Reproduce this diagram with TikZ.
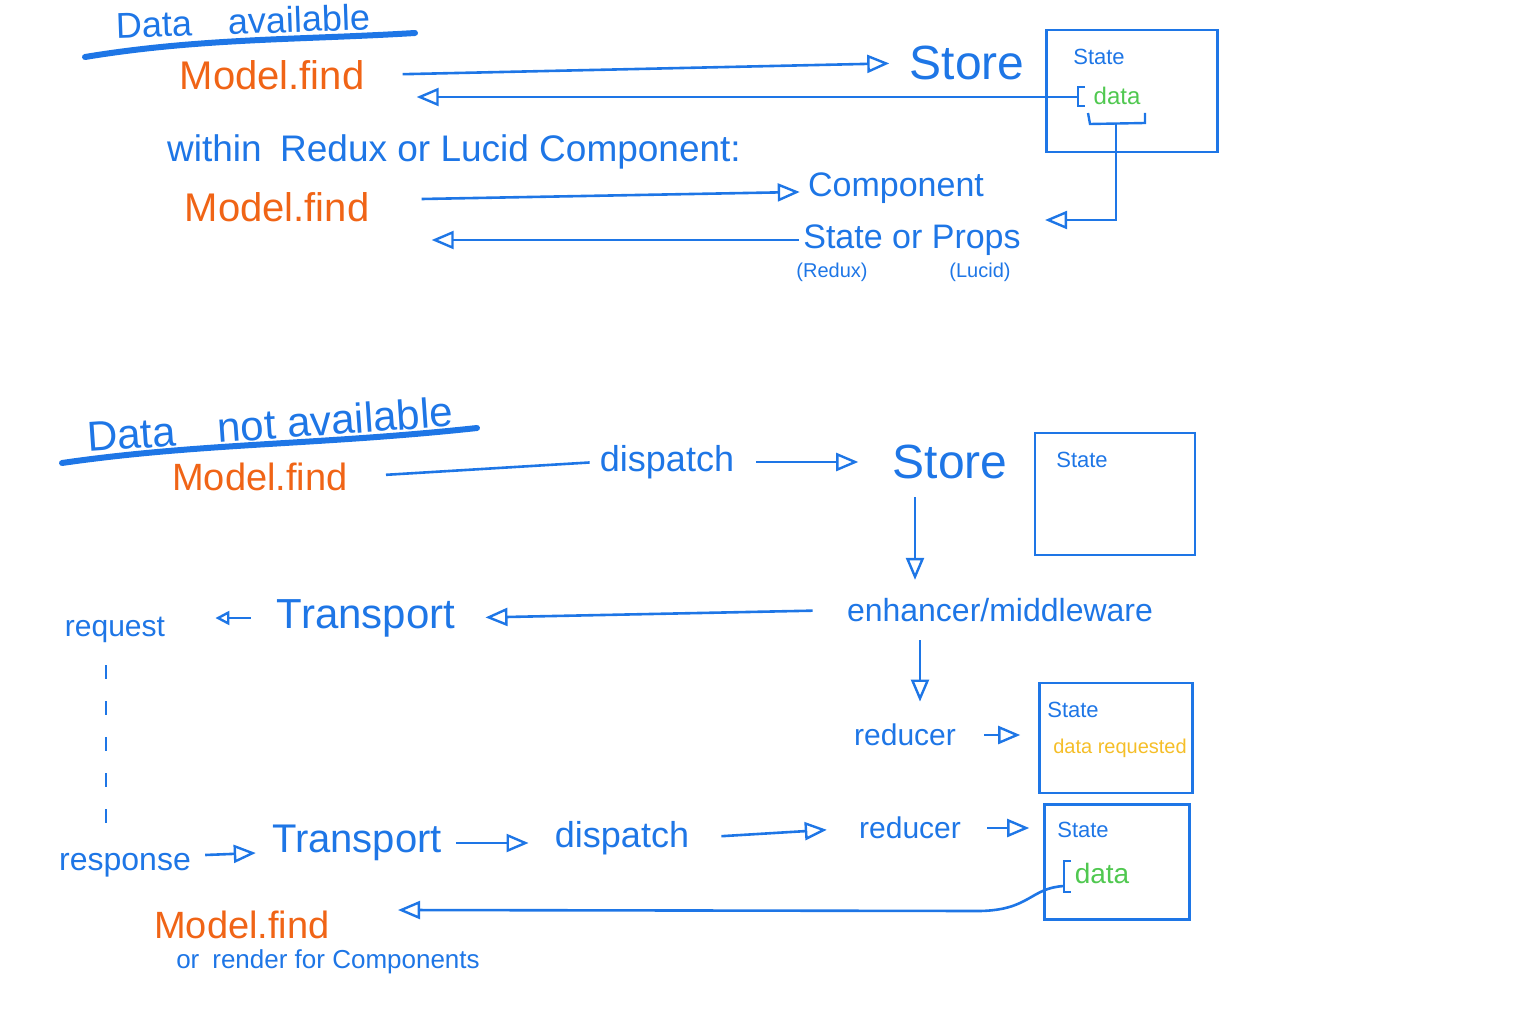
\documentclass[tikz,border=0pt]{standalone}
\usepackage{fontspec}
\setmainfont{Liberation Sans}
\usetikzlibrary{arrows.meta,calc}
\definecolor{pen}{RGB}{30,118,230}
\definecolor{penor}{RGB}{240,100,22}
\definecolor{pengr}{RGB}{80,200,80}
\definecolor{penye}{RGB}{245,190,40}
\newcommand\myfs[1]{\fontsize{#1}{#1}\selectfont}
\begin{document}
\begin{tikzpicture}[x=0.5pt,y=-0.5pt,
  txt/.style={text=pen, inner sep=1pt},
  otxt/.style={text=penor, inner sep=1pt},
  arr/.style={draw=pen, line width=1.3pt, -{Triangle[open,length=11pt,width=9pt,line width=1.2pt]}},
  sarr/.style={draw=pen, line width=1.3pt, -{Triangle[open,length=7pt,width=7pt,line width=1.2pt]}},
  ln/.style={draw=pen, line width=1.3pt},
  uline/.style={draw=pen, line width=3pt, line cap=round},
  sbox/.style={draw=pen, line width=1.3pt, rectangle, inner sep=0pt},
  brk/.style={draw=pen, line width=1.2pt},
]
\useasboundingbox (0,0) rectangle (1536,1016);

% ---------------- Data available ----------------
\node[txt, font=\myfs{18}, rotate=2] (t1) at (243,21) {Data\quad available};
\draw[uline] (85,57) .. controls (200,38) and (300,40) .. (415,33);
\node[otxt, font=\myfs{20}] (mf1) at (272,75) {Model.find};
\node[txt, font=\myfs{24}] (store1) at (967,63) {Store};
\node[sbox, minimum width=85.5pt, minimum height=61pt] (box1) at (1132,91) {};
\node[txt, font=\myfs{11}] (st1) at (1099,57) {State};
\node[text=pengr, inner sep=1pt, font=\myfs{12}] (d1) at (1117,96) {data};
\draw[brk] (1085,87) -- (1078,87) -- (1078,106) -- (1085,106);
\coordinate (brk1) at (1078,97);
\draw[brk] (1088,113) -- (1090,124) -- (1145,123) -- (1145,113);
\coordinate (brace1) at (1116,124);

\draw[arr, shorten <=18pt, shorten >=9pt] (mf1.east) -- (store1.west);
\draw[arr, shorten >=25pt] (brk1) -- (brk1 -| mf1.east);

\node[txt, font=\myfs{18.5}] (within) at (454,152) {within\enspace Redux or Lucid Component:};
\node[otxt, font=\myfs{20}] (mf2) at (277,207) {Model.find};
\node[txt, font=\myfs{17}] (comp) at (896,188) {Component};
\node[txt, font=\myfs{17}] (sop) at (912,240) {State or Props};
\node[txt, font=\myfs{10}] (redux) at (832,272) {(Redux)};
\node[txt, font=\myfs{10}] (lucid) at (980,272) {(Lucid)};

\draw[arr] ($(mf2.east)+(50,-8)$) -- ($(comp.west)+(-6,4)$);
\draw[arr, shorten <=1pt, shorten >=30pt] (sop.west) -- (sop.west -| mf2.east);
\coordinate (sopTip) at ($(sop.east)+(22,-20)$);
\draw[arr] (brace1) |- (sopTip);

% ---------------- Data not available ----------------
\node[txt, font=\myfs{21}, rotate=4] (t2) at (270,424) {Data\quad not available};
\draw[uline] (62,463) .. controls (200,443) and (320,445) .. (477,428);
\node[otxt, font=\myfs{19}] (mf3) at (260,477) {Model.find};
\node[txt, font=\myfs{18}] (disp1) at (667,462) {dispatch};
\node[txt, font=\myfs{24}] (store2) at (950,462) {Store};
\node[sbox, minimum width=80pt, minimum height=61pt] (box2) at (1115,494) {};
\node[txt, font=\myfs{11}] (st2) at (1082,460) {State};

\draw[ln, shorten <=18pt, shorten >=4pt] (mf3.east) -- (disp1.west);
\draw[arr, shorten <=10pt, shorten >=16pt] (disp1.east) -- (store2.west);

\node[txt, font=\myfs{16}] (enh) at (1000,610) {enhancer/middleware};
\coordinate (s2d) at ($(store2.south)+(-35,0)$);
\draw[arr, shorten <=8pt, shorten >=8pt] (s2d) -- (s2d |- enh.north);

\node[txt, font=\myfs{21}] (trans1) at (366,618) {Transport};
\node[txt, font=\myfs{15}] (req) at (115,630) {request};
\draw[arr, shorten <=16pt, shorten >=14pt] (enh.west) -- (trans1.east);
\draw[sarr, shorten <=12pt, shorten >=24pt] (trans1.west) -- (trans1.west -| req.east);

\node[txt, font=\myfs{15}] (red1) at (905,735) {reducer};
\coordinate (ed) at ($(enh.south)+(-80,0)$);
\draw[arr, shorten <=8pt, shorten >=10pt] (ed) -- (ed |- red1.north);
\node[sbox, minimum width=76.5pt, minimum height=55pt] (box3) at (1116,738) {};
\node[txt, font=\myfs{11}] (st3) at (1073,710) {State};
\node[text=penye, inner sep=1pt, font=\myfs{10}] (dr) at (1120,748) {data requested};
\draw[arr, shorten <=13pt, shorten >=9pt] (red1.east) -- (red1.east -| box3.west);

% bottom row
\node[txt, font=\myfs{16}] (resp) at (125,865) {response};
\node[txt, font=\myfs{20}] (trans2) at (357,843) {Transport};
\node[txt, font=\myfs{18}] (disp2) at (622,838) {dispatch};
\node[txt, font=\myfs{15}] (red2) at (910,828) {reducer};
\node[sbox, minimum width=72.5pt, minimum height=57.5pt] (box4) at (1117,862) {};
\node[txt, font=\myfs{11}] (st4) at (1083,830) {State};
\node[text=pengr, inner sep=1pt, font=\myfs{14}] (d4) at (1102,873) {data};
\draw[brk] (1071,861) -- (1064,861) -- (1064,892) -- (1071,892);
\coordinate (brk4) at (1064,886);

\coordinate (rq) at ($(req.south)+(-9,0)$);
\coordinate (rqEnd) at ($(rq |- resp.north)+(0,-20)$);
\draw[ln, dash pattern=on 7pt off 11pt, shorten <=10pt] (rq) -- (rqEnd);

\draw[arr] ($(resp.east)+(12,-10)$) -- ($(trans2.west)+(-14,10)$);
\draw[arr, shorten <=6pt, shorten >=12pt] (trans2.east) -- (trans2.east -| disp2.west);
\draw[arr, shorten <=15pt, shorten >=15pt] (disp2.east) -- (red2.west);
\draw[arr, shorten <=12pt, shorten >=7pt] (red2.east) -- (red2.east -| box4.west);

\node[otxt, font=\myfs{19}] (mf4) at (242,925) {Model.find};
\node[txt, font=\myfs{13}] (orc) at (328,962) {or\enspace render for Components};
\draw[arr] (brk4) .. controls (1030,888) and (1030,910) .. (980,911) -- ($(mf4.east)+(66,-15)$);

\end{tikzpicture}
\end{document}
